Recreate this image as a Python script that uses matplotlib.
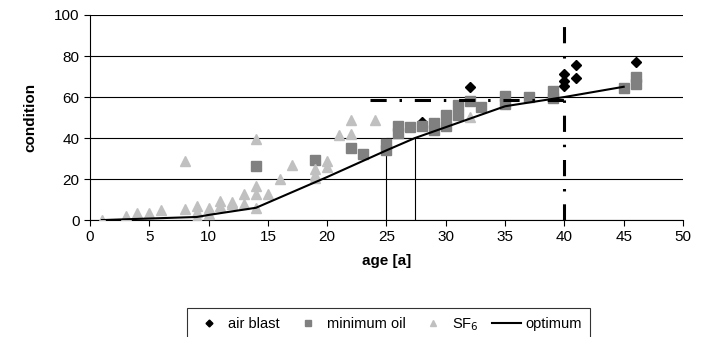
import matplotlib.pyplot as plt

plt.rcParams['font.family'] = ['Liberation Sans', 'DejaVu Sans']
plt.rcParams['font.size'] = 11

# air blast breakers
air_x = [28, 32, 40, 40, 40, 41, 41, 46]
air_y = [48, 65, 71, 68, 65.5, 75.5, 69.5, 77]

# minimum oil breakers
oil_x = [14, 19, 22, 23, 25, 25, 26, 26, 27, 28, 29, 29, 30, 30, 31, 31,
         32, 33, 35, 35, 37, 39, 39, 45, 46, 46]
oil_y = [26.5, 29.5, 35, 32, 37, 34, 46, 42.5, 45.5, 46, 47.5, 44, 51, 46, 56, 51,
         58, 55, 60.5, 56.5, 60, 63, 59.5, 64.5, 70, 66.5]

# SF6 breakers
sf6_x = [1, 3, 3, 4, 5, 6, 8, 8, 9, 9, 9, 10, 10, 11, 11, 12, 12, 13, 13,
         14, 14, 14, 14, 15, 16, 17, 19, 19, 19, 20, 20, 21, 22, 22, 24, 32]
sf6_y = [0, 1, 2, 3.5, 3.5, 5, 29, 5.5, 7, 4, 1.5, 6, 3, 9.5, 7, 9, 8, 12.5, 8,
         39.5, 16.5, 12.5, 6, 12.5, 20, 27, 25, 22, 20.5, 29, 26, 41.5, 49, 42, 49, 50.5]

# optimum curve
opt_x = [1, 9, 10, 14, 20, 25, 27.4, 35, 40, 45]
opt_y = [0, 1.5, 2.5, 6, 21, 34, 40, 55.5, 60, 65]

# reading lines / thresholds
read_x = [25, 27.4]
read_y = 40
limit_y = 58.5
limit_x0 = 23.6
limit_age = 40
limit_top = 94.5

fig = plt.figure(figsize=(7.06, 3.37), dpi=100)
ax = fig.add_axes([0.1275, 0.347, 0.8399, 0.6085])

ax.set_xlim(0, 50)
ax.set_ylim(0, 100)
ax.set_xticks(range(0, 51, 5))
ax.set_yticks(range(0, 101, 20))
ax.yaxis.grid(True, color='black', lw=0.8)
ax.set_axisbelow(True)
for s in ['top', 'right']:
    ax.spines[s].set_visible(False)
for s in ['left', 'bottom']:
    ax.spines[s].set_linewidth(0.8)
ax.tick_params(direction='out', length=4, width=0.8, labelsize=11)

# thin reading lines
ax.plot([read_x[0], read_x[0], read_x[1], read_x[1]], [0, read_y, read_y, 0],
        color='black', lw=0.8, zorder=2)

ax.plot(air_x, air_y, 'D', color='black', ms=5, ls='none', label='air blast', zorder=3)
ax.plot(oil_x, oil_y, 's', color='#808080', ms=6.5, ls='none', label='minimum oil', zorder=4)
ax.plot(sf6_x, sf6_y, '^', color='#c0c0c0', ms=7, ls='none', label='SF$_6$', zorder=5)
ax.plot(opt_x, opt_y, '-', color='black', lw=1.5, label='optimum', zorder=6)

dash = (0, (5.3, 4.2, 0.8, 4.2))
ax.plot([limit_x0, limit_age], [limit_y, limit_y], color='black', lw=2.2,
        ls=dash, zorder=7)
ax.plot([limit_age, limit_age], [0, limit_top], color='black', lw=2.2,
        ls=dash, zorder=7)

ax.set_xlabel('age [a]', fontweight='bold', labelpad=7)
ax.set_ylabel('condition', fontweight='bold', labelpad=12)

leg = fig.legend(loc='upper center', bbox_to_anchor=(0.55, 0.107), ncol=4,
                 frameon=True, fancybox=False, edgecolor='black', fontsize=10.5,
                 handlelength=2.0, handletextpad=0.3, columnspacing=0.9,
                 borderpad=0.55, markerscale=0.7)
leg.get_frame().set_linewidth(0.8)

fig.savefig('out.png', dpi=100)
